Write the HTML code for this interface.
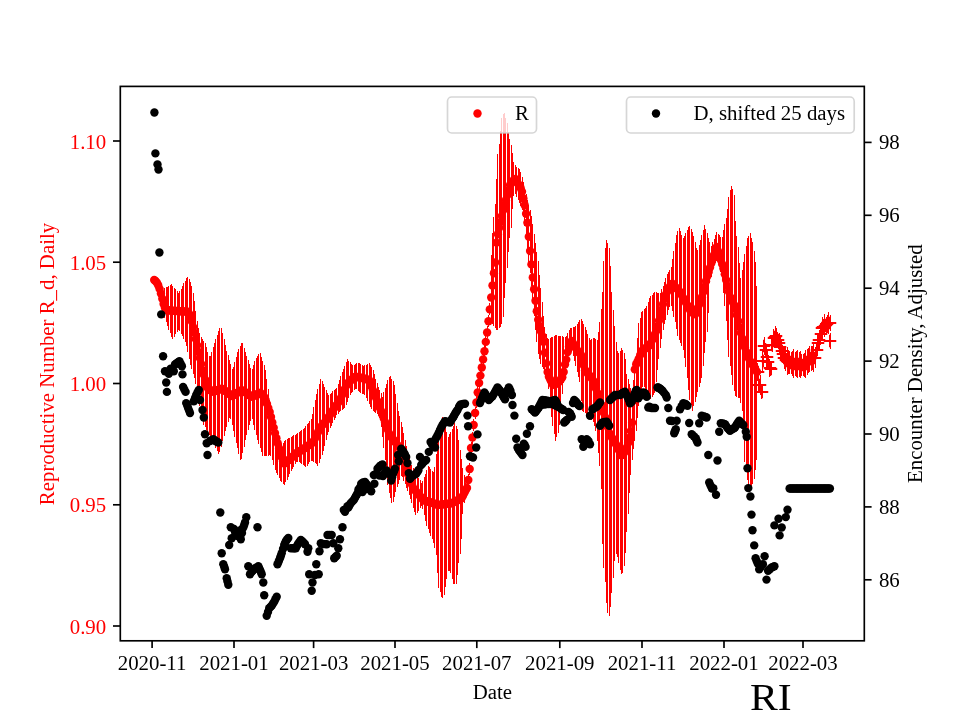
<!DOCTYPE html>
<html lang="en"><head><meta charset="utf-8"><title>RI</title>
<style>html,body{margin:0;padding:0;background:#fff}body{width:960px;height:720px;overflow:hidden}</style></head>
<body>
<svg width="960" height="720" viewBox="0 0 960 720" style="display:block">
<rect x="0" y="0" width="960" height="720" fill="#fff"/>
<g font-family="'Liberation Serif', 'DejaVu Serif', serif" font-size="20.83">
<path d="M164.5 288V318M166.5 287V322M167.5 287V326M168.5 286V330M170.5 285V333M171.5 284V337M172.5 286V339M174.5 288V337M175.5 289V334M177.5 291V332M178.5 293V330M179.5 291V331M181.5 289V334M182.5 286V336M183.5 283V339M185.5 281V342M186.5 278V346M187.5 277V352M189.5 279V359M190.5 282V365M191.5 286V369M193.5 293V374M194.5 301V378M195.5 311V384M197.5 321V392M198.5 328V399M199.5 333V406M201.5 337V413M202.5 339V420M203.5 341V425M205.5 343V427M206.5 347V430M207.5 352V432M209.5 356V435M210.5 356V437M211.5 352V440M213.5 347V443M214.5 343V445M215.5 339V448M217.5 335V451M218.5 331V454M219.5 328V452M221.5 328V447M222.5 333V441M224.5 339V436M225.5 345V431M226.5 351V427M228.5 355V422M229.5 360V418M230.5 364V419M232.5 369V425M233.5 367V431M234.5 362V437M236.5 357V443M237.5 352V448M238.5 349V454M240.5 346V460M241.5 343V459M242.5 343V453M244.5 348V447M245.5 352V440M246.5 356V435M248.5 360V430M249.5 364V425M250.5 368V421M252.5 369V419M253.5 365V425M254.5 361V430M256.5 358V435M257.5 356V440M258.5 354V444M260.5 353V448M261.5 357V452M262.5 361V456M264.5 365V456M265.5 370V456M266.5 379V456M268.5 389V456M269.5 400V455M270.5 410V456M272.5 419V460M273.5 426V465M275.5 431V470M276.5 436V473M277.5 439V475M279.5 443V478M280.5 445V481M281.5 444V482M283.5 443V484M284.5 441V485M285.5 440V482M287.5 439V480M288.5 438V477M289.5 438V474M291.5 437V471M292.5 436V469M293.5 435V467M295.5 435V464M296.5 434V462M297.5 433V462M299.5 432V462M300.5 431V463M301.5 430V464M303.5 429V465M304.5 428V466M305.5 426V467M307.5 424V466M308.5 423V464M309.5 421V462M311.5 419V461M312.5 414V461M313.5 407V462M315.5 400V463M316.5 394V464M317.5 389V466M319.5 384V463M320.5 379V459M322.5 381V455M323.5 384V451M324.5 387V446M326.5 390V440M327.5 393V435M328.5 395V432M330.5 394V428M331.5 393V426M332.5 391V423M334.5 390V420M335.5 389V418M336.5 388V415M338.5 384V414M339.5 380V412M340.5 376V411M342.5 372V410M343.5 369V409M344.5 366V408M346.5 362V405M347.5 359V402M348.5 361V398M350.5 362V395M351.5 364V393M352.5 365V392M354.5 365V390M355.5 364V389M356.5 363V389M358.5 363V391M359.5 363V392M360.5 364V393M362.5 365V394M363.5 366V394M364.5 365V395M366.5 365V398M367.5 364V401M369.5 363V404M370.5 365V407M371.5 367V409M373.5 370V411M374.5 374V412M375.5 379V413M377.5 383V414M378.5 387V416M379.5 390V418M381.5 393V427M382.5 397V437M383.5 392V448M385.5 388V460M386.5 384V473M387.5 380V485M389.5 377V493M390.5 376V498M391.5 379V503M393.5 381V502M394.5 385V497M395.5 394V492M397.5 403V487M398.5 411V484M399.5 416V480M401.5 422V476M402.5 427V477M403.5 433V481M405.5 440V484M406.5 446V488M407.5 451V491M409.5 456V495M410.5 461V499M411.5 465V503M413.5 468V508M414.5 470V512M415.5 473V515M417.5 475V513M418.5 478V511M420.5 480V508M421.5 483V506M422.5 481V509M424.5 477V515M425.5 474V521M426.5 470V526M428.5 466V529M429.5 467V533M430.5 469V536M432.5 471V539M433.5 472V543M434.5 467V548M436.5 454V555M437.5 440V573M438.5 434V588M440.5 427V592M441.5 421V597M442.5 417V598M444.5 422V595M445.5 427V587M446.5 432V579M448.5 437V571M449.5 434V571M450.5 432V573M452.5 429V579M453.5 426V584M454.5 423V584M456.5 426V584M457.5 429V575M458.5 440V563M460.5 450V554M461.5 459V539M462.5 468V514M464.5 475V503M465.5 483V496M467.5 482V494M468.5 474V486M469.5 463V475M471.5 442V454M472.5 432V444M473.5 419V431M475.5 407V419M476.5 396V408M477.5 386V398M479.5 377V389M480.5 370V382M481.5 362V374M483.5 353V365M484.5 345V357M485.5 336V348M487.5 326V338M488.5 315V327M489.5 303V315M491.5 255V322M492.5 233V324M493.5 217V326M495.5 204V328M496.5 179V330M497.5 154V330M499.5 144V328M500.5 131V327M501.5 118V324M503.5 114V317M504.5 113V298M505.5 118V283M507.5 123V268M508.5 132V252M509.5 139V238M511.5 145V228M512.5 153V209M513.5 162V196M515.5 165V194M516.5 167V197M518.5 168V200M519.5 169V203M520.5 172V206M522.5 177V210M523.5 182V217M524.5 189V226M526.5 194V238M527.5 200V252M528.5 205V266M530.5 210V273M531.5 216V286M532.5 224V303M534.5 234V316M535.5 243V330M536.5 252V342M538.5 261V354M539.5 275V359M540.5 288V364M542.5 302V367M543.5 316V369M544.5 327V370M546.5 334V371M547.5 338V378M548.5 339V389M550.5 338V403M551.5 337V417M552.5 337V426M554.5 336V434M555.5 335V441M556.5 335V437M558.5 336V433M559.5 336V425M560.5 336V409M562.5 336V394M563.5 337V383M565.5 337V374M566.5 336V367M567.5 333V360M569.5 330V353M570.5 328V349M571.5 328V352M573.5 327V356M574.5 327V361M575.5 326V366M577.5 324V372M578.5 322V377M579.5 320V382M581.5 319V401M582.5 321V411M583.5 324V412M585.5 327V413M586.5 330V415M587.5 334V416M589.5 338V418M590.5 340V419M591.5 339V420M593.5 338V422M594.5 338V426M595.5 339V431M597.5 340V441M598.5 332V453M599.5 322V466M601.5 309V489M602.5 292V544M603.5 261V568M605.5 248V582M606.5 240V603M607.5 243V613M609.5 248V616M610.5 266V607M611.5 292V593M613.5 310V578M614.5 326V561M616.5 342V554M617.5 351V557M618.5 353V563M620.5 351V570M621.5 348V574M622.5 350V573M624.5 353V566M625.5 359V553M626.5 374V532M628.5 379V514M629.5 384V493M630.5 388V475M632.5 391V460M633.5 380V449M634.5 368V441M636.5 355V431M637.5 338V418M638.5 323V406M640.5 318V396M641.5 312V391M642.5 311V387M644.5 309V387M645.5 308V390M646.5 306V393M648.5 302V396M649.5 298V399M650.5 296V399M652.5 295V397M653.5 293V395M654.5 292V393M656.5 292V382M657.5 293V370M658.5 293V359M660.5 293V348M661.5 289V339M663.5 286V330M664.5 282V324M665.5 278V320M667.5 274V315M668.5 272V310M669.5 270V307M671.5 267V306M672.5 259V311M673.5 251V317M675.5 243V322M676.5 235V329M677.5 231V336M679.5 228V340M680.5 231V343M681.5 235V346M683.5 238V350M684.5 236V358M685.5 233V367M687.5 230V378M688.5 227V390M689.5 226V400M691.5 229V405M692.5 232V411M693.5 236V406M695.5 242V402M696.5 248V397M697.5 250V392M699.5 245V387M700.5 240V383M701.5 235V378M703.5 230V366M704.5 225V353M705.5 229V342M707.5 233V332M708.5 238V313M709.5 242V283M711.5 246V277M712.5 242V270M714.5 239V265M715.5 235V263M716.5 232V261M718.5 234V263M719.5 235V266M720.5 237V272M722.5 237V280M723.5 230V293M724.5 224V306M726.5 218V321M727.5 209V340M728.5 197V357M730.5 190V366M731.5 186V375M732.5 189V385M734.5 195V391M735.5 221V396M736.5 236V397M738.5 247V398M739.5 263V398M740.5 278V403M742.5 270V411M743.5 262V428M744.5 254V462M746.5 246V472M747.5 238V480M748.5 236V485M750.5 233V489M751.5 238V487M752.5 242V484M754.5 251V479M755.5 262V470M756.5 286V460" stroke="#f00" stroke-width="1" fill="none"/>
<g fill="#f00"><circle cx="154.2" cy="280.0" r="4.2"/><circle cx="155.5" cy="281.0" r="4.2"/><circle cx="156.9" cy="282.7" r="4.2"/><circle cx="158.2" cy="285.3" r="4.2"/><circle cx="159.6" cy="288.9" r="4.2"/><circle cx="160.9" cy="293.5" r="4.2"/><circle cx="162.3" cy="298.8" r="4.2"/><circle cx="163.6" cy="304.0" r="4.2"/><circle cx="164.9" cy="307.8" r="4.2"/><circle cx="166.3" cy="310.0" r="4.2"/><circle cx="167.6" cy="310.2" r="4.2"/><circle cx="169.0" cy="310.3" r="4.2"/><circle cx="170.3" cy="310.5" r="4.2"/><circle cx="171.7" cy="310.6" r="4.2"/><circle cx="173.0" cy="310.8" r="4.2"/><circle cx="174.3" cy="310.9" r="4.2"/><circle cx="175.7" cy="310.9" r="4.2"/><circle cx="177.0" cy="311.0" r="4.2"/><circle cx="178.4" cy="311.1" r="4.2"/><circle cx="179.7" cy="311.2" r="4.2"/><circle cx="181.0" cy="311.3" r="4.2"/><circle cx="182.4" cy="311.3" r="4.2"/><circle cx="183.7" cy="311.4" r="4.2"/><circle cx="185.1" cy="311.5" r="4.2"/><circle cx="186.4" cy="311.6" r="4.2"/><circle cx="187.8" cy="311.7" r="4.2"/><circle cx="189.1" cy="313.6" r="4.2"/><circle cx="190.4" cy="316.7" r="4.2"/><circle cx="191.8" cy="321.4" r="4.2"/><circle cx="193.1" cy="327.1" r="4.2"/><circle cx="194.5" cy="332.8" r="4.2"/><circle cx="195.8" cy="339.0" r="4.2"/><circle cx="197.2" cy="345.5" r="4.2"/><circle cx="198.5" cy="352.0" r="4.2"/><circle cx="199.8" cy="358.1" r="4.2"/><circle cx="201.2" cy="364.1" r="4.2"/><circle cx="202.5" cy="370.1" r="4.2"/><circle cx="203.9" cy="374.9" r="4.2"/><circle cx="205.2" cy="379.8" r="4.2"/><circle cx="206.6" cy="384.6" r="4.2"/><circle cx="207.9" cy="388.3" r="4.2"/><circle cx="209.2" cy="389.3" r="4.2"/><circle cx="210.6" cy="390.2" r="4.2"/><circle cx="211.9" cy="391.2" r="4.2"/><circle cx="213.3" cy="391.9" r="4.2"/><circle cx="214.6" cy="391.4" r="4.2"/><circle cx="216.0" cy="390.9" r="4.2"/><circle cx="217.3" cy="390.3" r="4.2"/><circle cx="218.6" cy="389.8" r="4.2"/><circle cx="220.0" cy="389.3" r="4.2"/><circle cx="221.3" cy="388.8" r="4.2"/><circle cx="222.7" cy="389.0" r="4.2"/><circle cx="224.0" cy="390.0" r="4.2"/><circle cx="225.4" cy="391.0" r="4.2"/><circle cx="226.7" cy="392.0" r="4.2"/><circle cx="228.0" cy="393.0" r="4.2"/><circle cx="229.4" cy="394.0" r="4.2"/><circle cx="230.7" cy="395.0" r="4.2"/><circle cx="232.1" cy="396.0" r="4.2"/><circle cx="233.4" cy="395.2" r="4.2"/><circle cx="234.8" cy="394.4" r="4.2"/><circle cx="236.1" cy="393.5" r="4.2"/><circle cx="237.4" cy="392.7" r="4.2"/><circle cx="238.8" cy="391.9" r="4.2"/><circle cx="240.1" cy="391.1" r="4.2"/><circle cx="241.5" cy="390.3" r="4.2"/><circle cx="242.8" cy="390.6" r="4.2"/><circle cx="244.1" cy="391.5" r="4.2"/><circle cx="245.5" cy="392.4" r="4.2"/><circle cx="246.8" cy="393.4" r="4.2"/><circle cx="248.2" cy="394.3" r="4.2"/><circle cx="249.5" cy="395.3" r="4.2"/><circle cx="250.9" cy="396.2" r="4.2"/><circle cx="252.2" cy="396.9" r="4.2"/><circle cx="253.5" cy="396.1" r="4.2"/><circle cx="254.9" cy="395.4" r="4.2"/><circle cx="256.2" cy="394.6" r="4.2"/><circle cx="257.6" cy="393.9" r="4.2"/><circle cx="258.9" cy="393.1" r="4.2"/><circle cx="260.3" cy="392.8" r="4.2"/><circle cx="261.6" cy="394.3" r="4.2"/><circle cx="262.9" cy="395.7" r="4.2"/><circle cx="264.3" cy="397.2" r="4.2"/><circle cx="265.6" cy="399.9" r="4.2"/><circle cx="267.0" cy="403.9" r="4.2"/><circle cx="268.3" cy="407.9" r="4.2"/><circle cx="269.7" cy="412.0" r="4.2"/><circle cx="271.0" cy="417.0" r="4.2"/><circle cx="272.3" cy="422.4" r="4.2"/><circle cx="273.7" cy="427.7" r="4.2"/><circle cx="275.0" cy="433.1" r="4.2"/><circle cx="276.4" cy="438.2" r="4.2"/><circle cx="277.7" cy="443.3" r="4.2"/><circle cx="279.1" cy="448.4" r="4.2"/><circle cx="280.4" cy="453.2" r="4.2"/><circle cx="281.7" cy="457.2" r="4.2"/><circle cx="283.1" cy="461.2" r="4.2"/><circle cx="284.4" cy="463.6" r="4.2"/><circle cx="285.8" cy="462.5" r="4.2"/><circle cx="287.1" cy="461.4" r="4.2"/><circle cx="288.4" cy="460.3" r="4.2"/><circle cx="289.8" cy="459.2" r="4.2"/><circle cx="291.1" cy="458.0" r="4.2"/><circle cx="292.5" cy="456.8" r="4.2"/><circle cx="293.8" cy="455.6" r="4.2"/><circle cx="295.2" cy="454.4" r="4.2"/><circle cx="296.5" cy="453.2" r="4.2"/><circle cx="297.8" cy="452.3" r="4.2"/><circle cx="299.2" cy="451.5" r="4.2"/><circle cx="300.5" cy="450.7" r="4.2"/><circle cx="301.9" cy="449.9" r="4.2"/><circle cx="303.2" cy="449.1" r="4.2"/><circle cx="304.6" cy="448.3" r="4.2"/><circle cx="305.9" cy="447.3" r="4.2"/><circle cx="307.2" cy="446.4" r="4.2"/><circle cx="308.6" cy="445.4" r="4.2"/><circle cx="309.9" cy="444.4" r="4.2"/><circle cx="311.3" cy="443.5" r="4.2"/><circle cx="312.6" cy="442.5" r="4.2"/><circle cx="314.0" cy="440.6" r="4.2"/><circle cx="315.3" cy="437.8" r="4.2"/><circle cx="316.6" cy="435.0" r="4.2"/><circle cx="318.0" cy="432.2" r="4.2"/><circle cx="319.3" cy="429.4" r="4.2"/><circle cx="320.7" cy="427.2" r="4.2"/><circle cx="322.0" cy="425.6" r="4.2"/><circle cx="323.4" cy="424.0" r="4.2"/><circle cx="324.7" cy="422.4" r="4.2"/><circle cx="326.0" cy="420.8" r="4.2"/><circle cx="327.4" cy="418.9" r="4.2"/><circle cx="328.7" cy="416.8" r="4.2"/><circle cx="330.1" cy="414.7" r="4.2"/><circle cx="331.4" cy="412.5" r="4.2"/><circle cx="332.8" cy="410.4" r="4.2"/><circle cx="334.1" cy="408.4" r="4.2"/><circle cx="335.4" cy="406.5" r="4.2"/><circle cx="336.8" cy="404.6" r="4.2"/><circle cx="338.1" cy="402.7" r="4.2"/><circle cx="339.5" cy="400.8" r="4.2"/><circle cx="340.8" cy="398.2" r="4.2"/><circle cx="342.1" cy="395.1" r="4.2"/><circle cx="343.5" cy="392.0" r="4.2"/><circle cx="344.8" cy="388.9" r="4.2"/><circle cx="346.2" cy="385.9" r="4.2"/><circle cx="347.5" cy="383.5" r="4.2"/><circle cx="348.9" cy="382.3" r="4.2"/><circle cx="350.2" cy="381.0" r="4.2"/><circle cx="351.5" cy="379.7" r="4.2"/><circle cx="352.9" cy="378.5" r="4.2"/><circle cx="354.2" cy="377.2" r="4.2"/><circle cx="355.6" cy="376.6" r="4.2"/><circle cx="356.9" cy="376.9" r="4.2"/><circle cx="358.3" cy="377.2" r="4.2"/><circle cx="359.6" cy="377.5" r="4.2"/><circle cx="360.9" cy="377.8" r="4.2"/><circle cx="362.3" cy="378.1" r="4.2"/><circle cx="363.6" cy="378.5" r="4.2"/><circle cx="365.0" cy="378.8" r="4.2"/><circle cx="366.3" cy="379.2" r="4.2"/><circle cx="367.7" cy="379.6" r="4.2"/><circle cx="369.0" cy="380.0" r="4.2"/><circle cx="370.3" cy="383.5" r="4.2"/><circle cx="371.7" cy="386.9" r="4.2"/><circle cx="373.0" cy="390.4" r="4.2"/><circle cx="374.4" cy="393.8" r="4.2"/><circle cx="375.7" cy="397.3" r="4.2"/><circle cx="377.1" cy="400.8" r="4.2"/><circle cx="378.4" cy="404.3" r="4.2"/><circle cx="379.7" cy="407.8" r="4.2"/><circle cx="381.1" cy="411.3" r="4.2"/><circle cx="382.4" cy="414.8" r="4.2"/><circle cx="383.8" cy="418.5" r="4.2"/><circle cx="385.1" cy="422.3" r="4.2"/><circle cx="386.5" cy="426.0" r="4.2"/><circle cx="387.8" cy="429.7" r="4.2"/><circle cx="389.1" cy="433.4" r="4.2"/><circle cx="390.5" cy="436.0" r="4.2"/><circle cx="391.8" cy="437.7" r="4.2"/><circle cx="393.2" cy="439.5" r="4.2"/><circle cx="394.5" cy="441.2" r="4.2"/><circle cx="395.9" cy="442.9" r="4.2"/><circle cx="397.2" cy="444.7" r="4.2"/><circle cx="398.5" cy="446.6" r="4.2"/><circle cx="399.9" cy="448.4" r="4.2"/><circle cx="401.2" cy="450.3" r="4.2"/><circle cx="402.6" cy="455.1" r="4.2"/><circle cx="403.9" cy="461.5" r="4.2"/><circle cx="405.2" cy="467.3" r="4.2"/><circle cx="406.6" cy="470.8" r="4.2"/><circle cx="407.9" cy="474.3" r="4.2"/><circle cx="409.3" cy="477.8" r="4.2"/><circle cx="410.6" cy="481.3" r="4.2"/><circle cx="412.0" cy="484.8" r="4.2"/><circle cx="413.3" cy="488.3" r="4.2"/><circle cx="414.6" cy="489.9" r="4.2"/><circle cx="416.0" cy="491.4" r="4.2"/><circle cx="417.3" cy="493.0" r="4.2"/><circle cx="418.7" cy="494.6" r="4.2"/><circle cx="420.0" cy="496.2" r="4.2"/><circle cx="421.4" cy="497.7" r="4.2"/><circle cx="422.7" cy="499.3" r="4.2"/><circle cx="424.0" cy="500.2" r="4.2"/><circle cx="425.4" cy="500.7" r="4.2"/><circle cx="426.7" cy="501.1" r="4.2"/><circle cx="428.1" cy="501.6" r="4.2"/><circle cx="429.4" cy="502.0" r="4.2"/><circle cx="430.8" cy="502.5" r="4.2"/><circle cx="432.1" cy="502.9" r="4.2"/><circle cx="433.4" cy="503.4" r="4.2"/><circle cx="434.8" cy="503.8" r="4.2"/><circle cx="436.1" cy="504.3" r="4.2"/><circle cx="437.5" cy="504.7" r="4.2"/><circle cx="438.8" cy="504.9" r="4.2"/><circle cx="440.2" cy="504.8" r="4.2"/><circle cx="441.5" cy="504.6" r="4.2"/><circle cx="442.8" cy="504.4" r="4.2"/><circle cx="444.2" cy="504.3" r="4.2"/><circle cx="445.5" cy="504.1" r="4.2"/><circle cx="446.9" cy="503.9" r="4.2"/><circle cx="448.2" cy="503.7" r="4.2"/><circle cx="449.6" cy="503.6" r="4.2"/><circle cx="450.9" cy="503.4" r="4.2"/><circle cx="452.2" cy="503.0" r="4.2"/><circle cx="453.6" cy="502.4" r="4.2"/><circle cx="454.9" cy="501.7" r="4.2"/><circle cx="456.3" cy="501.0" r="4.2"/><circle cx="457.6" cy="500.3" r="4.2"/><circle cx="458.9" cy="499.7" r="4.2"/><circle cx="460.3" cy="499.0" r="4.2"/><circle cx="461.6" cy="498.3" r="4.2"/><circle cx="463.0" cy="495.7" r="4.2"/><circle cx="464.3" cy="493.0" r="4.2"/><circle cx="465.7" cy="490.3" r="4.2"/><circle cx="467.0" cy="488.0" r="4.2"/><circle cx="468.3" cy="480.0" r="4.2"/><circle cx="469.7" cy="469.0" r="4.2"/><circle cx="471.0" cy="448.0" r="4.2"/><circle cx="472.4" cy="437.5" r="4.2"/><circle cx="473.7" cy="425.0" r="4.2"/><circle cx="475.1" cy="413.0" r="4.2"/><circle cx="476.4" cy="402.5" r="4.2"/><circle cx="477.7" cy="392.5" r="4.2"/><circle cx="479.1" cy="383.0" r="4.2"/><circle cx="480.4" cy="375.6" r="4.2"/><circle cx="481.8" cy="367.5" r="4.2"/><circle cx="483.1" cy="359.4" r="4.2"/><circle cx="484.5" cy="351.2" r="4.2"/><circle cx="485.8" cy="341.9" r="4.2"/><circle cx="487.1" cy="332.5" r="4.2"/><circle cx="488.5" cy="321.2" r="4.2"/><circle cx="489.8" cy="309.4" r="4.2"/><circle cx="491.2" cy="297.5" r="4.2"/><circle cx="492.5" cy="285.5" r="4.2"/><circle cx="493.9" cy="273.3" r="4.2"/><circle cx="495.2" cy="262.5" r="4.2"/><circle cx="496.5" cy="242.6" r="4.2"/><circle cx="497.9" cy="234.3" r="4.2"/><circle cx="499.2" cy="227.7" r="4.2"/><circle cx="500.6" cy="221.9" r="4.2"/><circle cx="501.9" cy="216.0" r="4.2"/><circle cx="503.2" cy="210.2" r="4.2"/><circle cx="504.6" cy="205.2" r="4.2"/><circle cx="505.9" cy="200.2" r="4.2"/><circle cx="507.3" cy="195.2" r="4.2"/><circle cx="508.6" cy="190.1" r="4.2"/><circle cx="510.0" cy="185.1" r="4.2"/><circle cx="511.3" cy="183.3" r="4.2"/><circle cx="512.6" cy="181.5" r="4.2"/><circle cx="514.0" cy="179.7" r="4.2"/><circle cx="515.3" cy="178.9" r="4.2"/><circle cx="516.7" cy="181.2" r="4.2"/><circle cx="518.0" cy="183.6" r="4.2"/><circle cx="519.4" cy="185.9" r="4.2"/><circle cx="520.7" cy="188.3" r="4.2"/><circle cx="522.0" cy="191.7" r="4.2"/><circle cx="523.4" cy="198.5" r="4.2"/><circle cx="524.7" cy="205.3" r="4.2"/><circle cx="526.1" cy="213.8" r="4.2"/><circle cx="527.4" cy="222.7" r="4.2"/><circle cx="528.8" cy="236.7" r="4.2"/><circle cx="530.1" cy="251.0" r="4.2"/><circle cx="531.4" cy="264.4" r="4.2"/><circle cx="532.8" cy="277.5" r="4.2"/><circle cx="534.1" cy="289.3" r="4.2"/><circle cx="535.5" cy="300.7" r="4.2"/><circle cx="536.8" cy="311.3" r="4.2"/><circle cx="538.2" cy="319.7" r="4.2"/><circle cx="539.5" cy="326.0" r="4.2"/><circle cx="540.8" cy="331.3" r="4.2"/><circle cx="542.2" cy="336.0" r="4.2"/><circle cx="543.5" cy="341.8" r="4.2"/><circle cx="544.9" cy="352.8" r="4.2"/><circle cx="546.2" cy="363.4" r="4.2"/><circle cx="547.6" cy="372.1" r="4.2"/><circle cx="548.9" cy="376.8" r="4.2"/><circle cx="550.2" cy="379.5" r="4.2"/><circle cx="551.6" cy="382.2" r="4.2"/><circle cx="552.9" cy="384.8" r="4.2"/><circle cx="554.3" cy="384.5" r="4.2"/><circle cx="555.6" cy="384.0" r="4.2"/><circle cx="557.0" cy="383.4" r="4.2"/><circle cx="558.3" cy="382.6" r="4.2"/><circle cx="559.6" cy="381.0" r="4.2"/><circle cx="561.0" cy="379.3" r="4.2"/><circle cx="562.3" cy="377.3" r="4.2"/><circle cx="563.7" cy="372.0" r="4.2"/><circle cx="565.0" cy="364.5" r="4.2"/><circle cx="566.3" cy="359.6" r="4.2"/><circle cx="567.7" cy="352.1" r="4.2"/><circle cx="569.0" cy="346.7" r="4.2"/><circle cx="570.4" cy="343.8" r="4.2"/><circle cx="571.7" cy="341.0" r="4.2"/><circle cx="573.1" cy="343.5" r="4.2"/><circle cx="574.4" cy="345.9" r="4.2"/><circle cx="575.7" cy="348.1" r="4.2"/><circle cx="577.1" cy="350.2" r="4.2"/><circle cx="578.4" cy="352.1" r="4.2"/><circle cx="579.8" cy="353.2" r="4.2"/><circle cx="581.1" cy="355.2" r="4.2"/><circle cx="582.5" cy="360.3" r="4.2"/><circle cx="583.8" cy="365.4" r="4.2"/><circle cx="585.1" cy="370.2" r="4.2"/><circle cx="586.5" cy="371.9" r="4.2"/><circle cx="587.8" cy="373.5" r="4.2"/><circle cx="589.2" cy="375.2" r="4.2"/><circle cx="590.5" cy="376.9" r="4.2"/><circle cx="591.9" cy="378.6" r="4.2"/><circle cx="593.2" cy="380.6" r="4.2"/><circle cx="594.5" cy="384.6" r="4.2"/><circle cx="595.9" cy="388.6" r="4.2"/><circle cx="597.2" cy="392.7" r="4.2"/><circle cx="598.6" cy="396.7" r="4.2"/><circle cx="599.9" cy="400.7" r="4.2"/><circle cx="601.3" cy="404.8" r="4.2"/><circle cx="602.6" cy="408.8" r="4.2"/><circle cx="603.9" cy="413.0" r="4.2"/><circle cx="605.3" cy="417.4" r="4.2"/><circle cx="606.6" cy="421.7" r="4.2"/><circle cx="608.0" cy="427.6" r="4.2"/><circle cx="609.3" cy="433.2" r="4.2"/><circle cx="610.6" cy="435.4" r="4.2"/><circle cx="612.0" cy="437.7" r="4.2"/><circle cx="613.3" cy="439.9" r="4.2"/><circle cx="614.7" cy="442.1" r="4.2"/><circle cx="616.0" cy="444.4" r="4.2"/><circle cx="617.4" cy="447.2" r="4.2"/><circle cx="618.7" cy="449.9" r="4.2"/><circle cx="620.0" cy="452.6" r="4.2"/><circle cx="621.4" cy="455.4" r="4.2"/><circle cx="622.7" cy="454.6" r="4.2"/><circle cx="624.1" cy="452.7" r="4.2"/><circle cx="625.4" cy="450.8" r="4.2"/><circle cx="626.8" cy="447.5" r="4.2"/><circle cx="628.1" cy="443.0" r="4.2"/><circle cx="629.4" cy="437.8" r="4.2"/><circle cx="630.8" cy="431.1" r="4.2"/><circle cx="632.1" cy="422.8" r="4.2"/><circle cx="633.5" cy="400.5" r="4.2"/><circle cx="634.8" cy="369.4" r="4.2"/><circle cx="636.2" cy="364.3" r="4.2"/><circle cx="637.5" cy="361.6" r="4.2"/><circle cx="638.8" cy="358.6" r="4.2"/><circle cx="640.2" cy="355.0" r="4.2"/><circle cx="641.5" cy="351.5" r="4.2"/><circle cx="642.9" cy="350.2" r="4.2"/><circle cx="644.2" cy="349.2" r="4.2"/><circle cx="645.6" cy="348.2" r="4.2"/><circle cx="646.9" cy="347.2" r="4.2"/><circle cx="648.2" cy="346.3" r="4.2"/><circle cx="649.6" cy="345.3" r="4.2"/><circle cx="650.9" cy="342.9" r="4.2"/><circle cx="652.3" cy="339.9" r="4.2"/><circle cx="653.6" cy="336.9" r="4.2"/><circle cx="655.0" cy="333.9" r="4.2"/><circle cx="656.3" cy="330.9" r="4.2"/><circle cx="657.6" cy="326.2" r="4.2"/><circle cx="659.0" cy="320.7" r="4.2"/><circle cx="660.3" cy="315.2" r="4.2"/><circle cx="661.7" cy="309.7" r="4.2"/><circle cx="663.0" cy="304.2" r="4.2"/><circle cx="664.4" cy="298.7" r="4.2"/><circle cx="665.7" cy="294.7" r="4.2"/><circle cx="667.0" cy="292.1" r="4.2"/><circle cx="668.4" cy="289.4" r="4.2"/><circle cx="669.7" cy="286.8" r="4.2"/><circle cx="671.1" cy="284.2" r="4.2"/><circle cx="672.4" cy="283.8" r="4.2"/><circle cx="673.7" cy="285.2" r="4.2"/><circle cx="675.1" cy="286.7" r="4.2"/><circle cx="676.4" cy="288.1" r="4.2"/><circle cx="677.8" cy="289.6" r="4.2"/><circle cx="679.1" cy="291.0" r="4.2"/><circle cx="680.5" cy="292.8" r="4.2"/><circle cx="681.8" cy="295.2" r="4.2"/><circle cx="683.1" cy="297.7" r="4.2"/><circle cx="684.5" cy="300.1" r="4.2"/><circle cx="685.8" cy="302.5" r="4.2"/><circle cx="687.2" cy="304.9" r="4.2"/><circle cx="688.5" cy="307.3" r="4.2"/><circle cx="689.9" cy="309.7" r="4.2"/><circle cx="691.2" cy="311.2" r="4.2"/><circle cx="692.5" cy="312.5" r="4.2"/><circle cx="693.9" cy="313.9" r="4.2"/><circle cx="695.2" cy="314.4" r="4.2"/><circle cx="696.6" cy="311.1" r="4.2"/><circle cx="697.9" cy="307.7" r="4.2"/><circle cx="699.3" cy="304.4" r="4.2"/><circle cx="700.6" cy="301.0" r="4.2"/><circle cx="701.9" cy="297.3" r="4.2"/><circle cx="703.3" cy="292.0" r="4.2"/><circle cx="704.6" cy="286.6" r="4.2"/><circle cx="706.0" cy="281.2" r="4.2"/><circle cx="707.3" cy="276.3" r="4.2"/><circle cx="708.7" cy="271.9" r="4.2"/><circle cx="710.0" cy="267.6" r="4.2"/><circle cx="711.3" cy="263.2" r="4.2"/><circle cx="712.7" cy="259.1" r="4.2"/><circle cx="714.0" cy="255.0" r="4.2"/><circle cx="715.4" cy="251.0" r="4.2"/><circle cx="716.7" cy="247.0" r="4.2"/><circle cx="718.0" cy="251.3" r="4.2"/><circle cx="719.4" cy="255.6" r="4.2"/><circle cx="720.7" cy="259.8" r="4.2"/><circle cx="722.1" cy="264.1" r="4.2"/><circle cx="723.4" cy="268.5" r="4.2"/><circle cx="724.8" cy="274.3" r="4.2"/><circle cx="726.1" cy="280.0" r="4.2"/><circle cx="727.4" cy="285.8" r="4.2"/><circle cx="728.8" cy="291.5" r="4.2"/><circle cx="730.1" cy="297.0" r="4.2"/><circle cx="731.5" cy="299.6" r="4.2"/><circle cx="732.8" cy="302.3" r="4.2"/><circle cx="734.2" cy="305.0" r="4.2"/><circle cx="735.5" cy="309.0" r="4.2"/><circle cx="736.8" cy="315.1" r="4.2"/><circle cx="738.2" cy="321.2" r="4.2"/><circle cx="739.5" cy="327.1" r="4.2"/><circle cx="740.9" cy="333.0" r="4.2"/><circle cx="742.2" cy="338.4" r="4.2"/><circle cx="743.6" cy="342.9" r="4.2"/><circle cx="744.9" cy="347.3" r="4.2"/><circle cx="746.2" cy="351.8" r="4.2"/><circle cx="747.6" cy="355.4" r="4.2"/><circle cx="748.9" cy="358.5" r="4.2"/><circle cx="750.3" cy="361.4" r="4.2"/><circle cx="751.6" cy="363.5" r="4.2"/><circle cx="753.0" cy="365.6" r="4.2"/><circle cx="754.3" cy="367.8" r="4.2"/><circle cx="755.6" cy="369.9" r="4.2"/><circle cx="757.0" cy="372.0" r="4.2"/></g>
<path d="M757.5 363V381M758.5 377V393M760.5 375V395M761.5 385V399M762.5 351V371M764.5 337V355M765.5 343V357M766.5 347V367M768.5 355V369M769.5 359V377M770.5 362V376M772.5 338V352M773.5 329V347M775.5 326V348M776.5 328V344M777.5 332V348M779.5 333V353M780.5 335V359M781.5 341V361M783.5 346V363M784.5 346V369M785.5 348V371M787.5 347V375M788.5 350V374M789.5 351V374M791.5 352V374M792.5 351V376M793.5 349V378M795.5 352V376M796.5 351V377M797.5 350V378M799.5 352V377M800.5 351V378M801.5 354V376M803.5 354V376M804.5 353V377M805.5 350V378M807.5 349V375M808.5 348V373M809.5 346V372M811.5 346V371M812.5 346V370M813.5 344V372M815.5 347V368M816.5 342V358M817.5 333V353M819.5 330V350M820.5 323V345M822.5 317V339M823.5 319V335M824.5 314V337M826.5 317V333M827.5 315V333M828.5 312V334M830.5 315V331M830.5 333V349" stroke="#f00" stroke-width="1" fill="none"/>
<path d="M751.75 372h12.5M758 365.75v12.5M752.75 385h12.5M759 378.75v12.5M753.75 385h12.5M760 378.75v12.5M755.75 392h12.5M762 385.75v12.5M756.75 361h12.5M763 354.75v12.5M757.75 346h12.5M764 339.75v12.5M759.75 350h12.5M766 343.75v12.5M760.75 357h12.5M767 350.75v12.5M761.75 362h12.5M768 355.75v12.5M763.75 368h12.5M770 361.75v12.5M764.75 369h12.5M771 362.75v12.5M765.75 345h12.5M772 338.75v12.5M767.75 338h12.5M774 331.75v12.5M768.75 337h12.5M775 330.75v12.5M769.75 336h12.5M776 329.75v12.5M771.75 340h12.5M778 333.75v12.5M772.75 343h12.5M779 336.75v12.5M773.75 347h12.5M780 340.75v12.5M775.75 351h12.5M782 344.75v12.5M776.75 354h12.5M783 347.75v12.5M777.75 358h12.5M784 351.75v12.5M779.75 360h12.5M786 353.75v12.5M780.75 361h12.5M787 354.75v12.5M781.75 362h12.5M788 355.75v12.5M783.75 362h12.5M790 355.75v12.5M784.75 363h12.5M791 356.75v12.5M785.75 364h12.5M792 357.75v12.5M787.75 364h12.5M794 357.75v12.5M788.75 364h12.5M795 357.75v12.5M789.75 364h12.5M796 357.75v12.5M791.75 364h12.5M798 357.75v12.5M792.75 364h12.5M799 357.75v12.5M793.75 364h12.5M800 357.75v12.5M795.75 365h12.5M802 358.75v12.5M796.75 365h12.5M803 358.75v12.5M797.75 365h12.5M804 358.75v12.5M799.75 364h12.5M806 357.75v12.5M800.75 362h12.5M807 355.75v12.5M801.75 360h12.5M808 353.75v12.5M803.75 359h12.5M810 352.75v12.5M804.75 358h12.5M811 351.75v12.5M806.75 358h12.5M813 351.75v12.5M807.75 358h12.5M814 351.75v12.5M808.75 358h12.5M815 351.75v12.5M810.75 350h12.5M817 343.75v12.5M811.75 343h12.5M818 336.75v12.5M812.75 340h12.5M819 333.75v12.5M814.75 334h12.5M821 327.75v12.5M815.75 328h12.5M822 321.75v12.5M816.75 327h12.5M823 320.75v12.5M818.75 326h12.5M825 319.75v12.5M819.75 325h12.5M826 318.75v12.5M820.75 324h12.5M827 317.75v12.5M822.75 323h12.5M829 316.75v12.5M823.75 323h12.5M830 316.75v12.5M823.75 341h12.5M830 334.75v12.5" stroke="#f00" stroke-width="2" fill="none"/>
<g fill="#000"><circle cx="358.5" cy="489.5" r="4.2"/><circle cx="360.0" cy="487.5" r="4.2"/><circle cx="376.0" cy="474.0" r="4.2"/><circle cx="379.5" cy="475.5" r="4.2"/><circle cx="383.0" cy="476.0" r="4.2"/><circle cx="386.5" cy="470.5" r="4.2"/><circle cx="362.5" cy="492.0" r="4.2"/><circle cx="366.5" cy="489.0" r="4.2"/><circle cx="573.0" cy="403.0" r="4.2"/><circle cx="579.5" cy="406.0" r="4.2"/><circle cx="541.5" cy="405.0" r="4.2"/><circle cx="548.0" cy="404.0" r="4.2"/><circle cx="552.5" cy="404.0" r="4.2"/><circle cx="556.5" cy="406.0" r="4.2"/><circle cx="234.0" cy="529.0" r="4.2"/><circle cx="239.0" cy="536.0" r="4.2"/><circle cx="242.0" cy="533.0" r="4.2"/><circle cx="154.4" cy="112.5" r="4.2"/><circle cx="155.4" cy="153.4" r="4.2"/><circle cx="157.5" cy="164.4" r="4.2"/><circle cx="158.5" cy="169.5" r="4.2"/><circle cx="159.4" cy="252.5" r="4.2"/><circle cx="161.2" cy="314.4" r="4.2"/><circle cx="163.1" cy="356.2" r="4.2"/><circle cx="165.0" cy="371.2" r="4.2"/><circle cx="166.2" cy="382.5" r="4.2"/><circle cx="166.9" cy="391.9" r="4.2"/><circle cx="168.8" cy="373.8" r="4.2"/><circle cx="170.6" cy="368.8" r="4.2"/><circle cx="172.2" cy="370.0" r="4.2"/><circle cx="173.8" cy="371.2" r="4.2"/><circle cx="175.0" cy="364.4" r="4.2"/><circle cx="177.2" cy="363.0" r="4.2"/><circle cx="179.4" cy="361.2" r="4.2"/><circle cx="181.9" cy="366.2" r="4.2"/><circle cx="182.5" cy="374.4" r="4.2"/><circle cx="183.1" cy="386.9" r="4.2"/><circle cx="185.6" cy="391.9" r="4.2"/><circle cx="186.2" cy="403.1" r="4.2"/><circle cx="188.1" cy="408.1" r="4.2"/><circle cx="190.0" cy="413.1" r="4.2"/><circle cx="193.8" cy="401.2" r="4.2"/><circle cx="196.2" cy="395.0" r="4.2"/><circle cx="198.8" cy="390.0" r="4.2"/><circle cx="200.0" cy="400.0" r="4.2"/><circle cx="202.5" cy="410.0" r="4.2"/><circle cx="203.8" cy="417.5" r="4.2"/><circle cx="205.0" cy="434.2" r="4.2"/><circle cx="206.7" cy="443.3" r="4.2"/><circle cx="207.5" cy="455.0" r="4.2"/><circle cx="210.0" cy="441.0" r="4.2"/><circle cx="213.3" cy="439.2" r="4.2"/><circle cx="215.5" cy="441.0" r="4.2"/><circle cx="218.3" cy="442.5" r="4.2"/><circle cx="220.3" cy="512.5" r="4.2"/><circle cx="221.7" cy="553.3" r="4.2"/><circle cx="223.3" cy="564.2" r="4.2"/><circle cx="225.0" cy="569.2" r="4.2"/><circle cx="226.7" cy="578.3" r="4.2"/><circle cx="228.3" cy="584.7" r="4.2"/><circle cx="229.2" cy="545.0" r="4.2"/><circle cx="230.8" cy="527.2" r="4.2"/><circle cx="231.7" cy="538.3" r="4.2"/><circle cx="235.0" cy="531.7" r="4.2"/><circle cx="236.7" cy="535.8" r="4.2"/><circle cx="238.5" cy="533.0" r="4.2"/><circle cx="240.8" cy="530.0" r="4.2"/><circle cx="240.8" cy="539.2" r="4.2"/><circle cx="243.3" cy="527.5" r="4.2"/><circle cx="245.0" cy="522.5" r="4.2"/><circle cx="246.3" cy="517.2" r="4.2"/><circle cx="248.3" cy="566.2" r="4.2"/><circle cx="250.0" cy="574.2" r="4.2"/><circle cx="251.5" cy="572.0" r="4.2"/><circle cx="253.3" cy="570.0" r="4.2"/><circle cx="255.5" cy="568.0" r="4.2"/><circle cx="257.5" cy="527.2" r="4.2"/><circle cx="258.3" cy="566.2" r="4.2"/><circle cx="260.0" cy="570.0" r="4.2"/><circle cx="261.7" cy="574.2" r="4.2"/><circle cx="263.3" cy="582.5" r="4.2"/><circle cx="264.2" cy="595.3" r="4.2"/><circle cx="266.7" cy="615.8" r="4.2"/><circle cx="268.0" cy="612.0" r="4.2"/><circle cx="269.2" cy="608.3" r="4.2"/><circle cx="271.7" cy="605.8" r="4.2"/><circle cx="274.2" cy="601.7" r="4.2"/><circle cx="276.7" cy="596.7" r="4.2"/><circle cx="277.5" cy="564.2" r="4.2"/><circle cx="280.0" cy="558.3" r="4.2"/><circle cx="281.7" cy="553.3" r="4.2"/><circle cx="283.0" cy="549.0" r="4.2"/><circle cx="284.2" cy="545.0" r="4.2"/><circle cx="286.0" cy="541.0" r="4.2"/><circle cx="288.3" cy="538.0" r="4.2"/><circle cx="290.8" cy="548.3" r="4.2"/><circle cx="293.0" cy="548.3" r="4.2"/><circle cx="295.8" cy="548.3" r="4.2"/><circle cx="298.0" cy="544.0" r="4.2"/><circle cx="300.8" cy="540.0" r="4.2"/><circle cx="303.0" cy="542.0" r="4.2"/><circle cx="305.0" cy="544.2" r="4.2"/><circle cx="307.5" cy="551.7" r="4.2"/><circle cx="308.3" cy="548.3" r="4.2"/><circle cx="309.2" cy="574.2" r="4.2"/><circle cx="311.7" cy="590.8" r="4.2"/><circle cx="312.5" cy="582.5" r="4.2"/><circle cx="315.0" cy="575.0" r="4.2"/><circle cx="316.3" cy="564.2" r="4.2"/><circle cx="318.7" cy="574.2" r="4.2"/><circle cx="319.5" cy="551.3" r="4.2"/><circle cx="320.8" cy="543.3" r="4.2"/><circle cx="323.0" cy="544.0" r="4.2"/><circle cx="326.7" cy="544.2" r="4.2"/><circle cx="327.5" cy="535.0" r="4.2"/><circle cx="329.5" cy="535.0" r="4.2"/><circle cx="331.7" cy="535.0" r="4.2"/><circle cx="333.3" cy="543.3" r="4.2"/><circle cx="334.2" cy="558.3" r="4.2"/><circle cx="336.7" cy="555.8" r="4.2"/><circle cx="338.3" cy="548.3" r="4.2"/><circle cx="340.0" cy="539.2" r="4.2"/><circle cx="342.5" cy="527.2" r="4.2"/><circle cx="343.8" cy="510.0" r="4.2"/><circle cx="345.0" cy="511.7" r="4.2"/><circle cx="347.5" cy="506.2" r="4.2"/><circle cx="348.3" cy="507.5" r="4.2"/><circle cx="350.5" cy="503.5" r="4.2"/><circle cx="353.8" cy="500.0" r="4.2"/><circle cx="356.0" cy="496.0" r="4.2"/><circle cx="358.1" cy="492.5" r="4.2"/><circle cx="361.2" cy="483.8" r="4.2"/><circle cx="363.0" cy="482.5" r="4.2"/><circle cx="365.0" cy="481.9" r="4.2"/><circle cx="368.0" cy="486.0" r="4.2"/><circle cx="371.2" cy="491.2" r="4.2"/><circle cx="373.8" cy="475.0" r="4.2"/><circle cx="374.4" cy="483.8" r="4.2"/><circle cx="377.5" cy="468.8" r="4.2"/><circle cx="380.0" cy="466.0" r="4.2"/><circle cx="382.5" cy="464.4" r="4.2"/><circle cx="385.0" cy="472.5" r="4.2"/><circle cx="387.0" cy="473.0" r="4.2"/><circle cx="388.8" cy="473.8" r="4.2"/><circle cx="391.2" cy="480.6" r="4.2"/><circle cx="393.0" cy="474.0" r="4.2"/><circle cx="395.0" cy="468.8" r="4.2"/><circle cx="398.1" cy="455.0" r="4.2"/><circle cx="398.8" cy="461.2" r="4.2"/><circle cx="401.2" cy="448.8" r="4.2"/><circle cx="403.5" cy="452.0" r="4.2"/><circle cx="406.2" cy="456.9" r="4.2"/><circle cx="407.5" cy="463.1" r="4.2"/><circle cx="408.8" cy="473.1" r="4.2"/><circle cx="410.0" cy="478.8" r="4.2"/><circle cx="412.0" cy="476.0" r="4.2"/><circle cx="414.0" cy="475.0" r="4.2"/><circle cx="416.2" cy="473.8" r="4.2"/><circle cx="418.5" cy="470.0" r="4.2"/><circle cx="420.0" cy="456.9" r="4.2"/><circle cx="421.2" cy="465.0" r="4.2"/><circle cx="423.5" cy="462.0" r="4.2"/><circle cx="426.2" cy="460.0" r="4.2"/><circle cx="428.8" cy="451.9" r="4.2"/><circle cx="430.6" cy="441.9" r="4.2"/><circle cx="432.5" cy="445.0" r="4.2"/><circle cx="435.0" cy="447.5" r="4.2"/><circle cx="435.0" cy="440.0" r="4.2"/><circle cx="437.5" cy="435.5" r="4.2"/><circle cx="440.0" cy="430.0" r="4.2"/><circle cx="442.5" cy="425.0" r="4.2"/><circle cx="445.0" cy="421.2" r="4.2"/><circle cx="447.5" cy="422.0" r="4.2"/><circle cx="450.0" cy="422.5" r="4.2"/><circle cx="452.0" cy="419.0" r="4.2"/><circle cx="453.8" cy="416.2" r="4.2"/><circle cx="455.5" cy="413.0" r="4.2"/><circle cx="457.5" cy="410.0" r="4.2"/><circle cx="459.0" cy="407.0" r="4.2"/><circle cx="460.6" cy="404.4" r="4.2"/><circle cx="463.0" cy="404.0" r="4.2"/><circle cx="465.0" cy="403.8" r="4.2"/><circle cx="467.5" cy="415.6" r="4.2"/><circle cx="468.1" cy="426.2" r="4.2"/><circle cx="470.0" cy="456.2" r="4.2"/><circle cx="473.0" cy="457.5" r="4.2"/><circle cx="476.2" cy="447.5" r="4.2"/><circle cx="477.5" cy="434.4" r="4.2"/><circle cx="480.0" cy="403.1" r="4.2"/><circle cx="482.0" cy="398.0" r="4.2"/><circle cx="484.4" cy="392.5" r="4.2"/><circle cx="486.5" cy="396.0" r="4.2"/><circle cx="488.8" cy="400.0" r="4.2"/><circle cx="490.5" cy="398.0" r="4.2"/><circle cx="492.5" cy="396.2" r="4.2"/><circle cx="495.0" cy="392.0" r="4.2"/><circle cx="497.5" cy="387.5" r="4.2"/><circle cx="499.5" cy="390.0" r="4.2"/><circle cx="501.2" cy="392.5" r="4.2"/><circle cx="503.0" cy="396.0" r="4.2"/><circle cx="505.0" cy="399.4" r="4.2"/><circle cx="506.5" cy="393.0" r="4.2"/><circle cx="508.8" cy="387.5" r="4.2"/><circle cx="510.5" cy="391.0" r="4.2"/><circle cx="511.9" cy="395.0" r="4.2"/><circle cx="512.5" cy="405.0" r="4.2"/><circle cx="514.4" cy="415.6" r="4.2"/><circle cx="516.2" cy="438.8" r="4.2"/><circle cx="517.5" cy="447.5" r="4.2"/><circle cx="519.5" cy="451.0" r="4.2"/><circle cx="522.5" cy="455.0" r="4.2"/><circle cx="523.8" cy="443.8" r="4.2"/><circle cx="525.6" cy="446.9" r="4.2"/><circle cx="526.9" cy="433.8" r="4.2"/><circle cx="530.0" cy="426.2" r="4.2"/><circle cx="531.7" cy="409.2" r="4.2"/><circle cx="533.5" cy="411.0" r="4.2"/><circle cx="535.0" cy="412.5" r="4.2"/><circle cx="537.0" cy="410.0" r="4.2"/><circle cx="538.8" cy="407.5" r="4.2"/><circle cx="540.5" cy="404.0" r="4.2"/><circle cx="542.5" cy="400.0" r="4.2"/><circle cx="545.0" cy="400.3" r="4.2"/><circle cx="547.5" cy="400.6" r="4.2"/><circle cx="549.4" cy="403.0" r="4.2"/><circle cx="551.5" cy="401.0" r="4.2"/><circle cx="553.5" cy="400.5" r="4.2"/><circle cx="555.0" cy="400.0" r="4.2"/><circle cx="556.7" cy="403.0" r="4.2"/><circle cx="558.3" cy="406.7" r="4.2"/><circle cx="561.0" cy="408.5" r="4.2"/><circle cx="563.3" cy="410.0" r="4.2"/><circle cx="564.2" cy="422.5" r="4.2"/><circle cx="566.7" cy="420.0" r="4.2"/><circle cx="568.5" cy="412.0" r="4.2"/><circle cx="570.0" cy="413.3" r="4.2"/><circle cx="571.7" cy="416.7" r="4.2"/><circle cx="574.2" cy="400.0" r="4.2"/><circle cx="576.5" cy="402.5" r="4.2"/><circle cx="578.3" cy="405.0" r="4.2"/><circle cx="581.7" cy="439.2" r="4.2"/><circle cx="583.3" cy="446.7" r="4.2"/><circle cx="585.0" cy="443.0" r="4.2"/><circle cx="586.7" cy="439.2" r="4.2"/><circle cx="588.5" cy="441.0" r="4.2"/><circle cx="590.0" cy="444.2" r="4.2"/><circle cx="590.0" cy="415.8" r="4.2"/><circle cx="592.5" cy="409.2" r="4.2"/><circle cx="594.5" cy="408.0" r="4.2"/><circle cx="596.7" cy="406.7" r="4.2"/><circle cx="598.5" cy="404.5" r="4.2"/><circle cx="600.0" cy="402.5" r="4.2"/><circle cx="600.0" cy="425.8" r="4.2"/><circle cx="602.5" cy="422.5" r="4.2"/><circle cx="604.5" cy="422.0" r="4.2"/><circle cx="606.7" cy="421.7" r="4.2"/><circle cx="609.2" cy="425.8" r="4.2"/><circle cx="610.0" cy="400.0" r="4.2"/><circle cx="612.5" cy="397.5" r="4.2"/><circle cx="615.0" cy="395.0" r="4.2"/><circle cx="617.5" cy="395.0" r="4.2"/><circle cx="620.0" cy="395.0" r="4.2"/><circle cx="622.5" cy="393.0" r="4.2"/><circle cx="625.0" cy="391.7" r="4.2"/><circle cx="627.5" cy="397.0" r="4.2"/><circle cx="630.0" cy="403.3" r="4.2"/><circle cx="631.7" cy="401.7" r="4.2"/><circle cx="633.3" cy="396.7" r="4.2"/><circle cx="635.8" cy="390.8" r="4.2"/><circle cx="636.7" cy="390.0" r="4.2"/><circle cx="638.3" cy="398.3" r="4.2"/><circle cx="640.5" cy="395.0" r="4.2"/><circle cx="643.3" cy="392.5" r="4.2"/><circle cx="645.0" cy="393.3" r="4.2"/><circle cx="646.7" cy="396.7" r="4.2"/><circle cx="648.3" cy="407.5" r="4.2"/><circle cx="649.2" cy="406.7" r="4.2"/><circle cx="651.5" cy="408.0" r="4.2"/><circle cx="655.0" cy="408.0" r="4.2"/><circle cx="657.5" cy="387.5" r="4.2"/><circle cx="658.3" cy="387.5" r="4.2"/><circle cx="660.5" cy="389.0" r="4.2"/><circle cx="662.5" cy="390.8" r="4.2"/><circle cx="665.8" cy="395.0" r="4.2"/><circle cx="666.7" cy="397.5" r="4.2"/><circle cx="668.3" cy="408.0" r="4.2"/><circle cx="670.0" cy="420.8" r="4.2"/><circle cx="672.0" cy="421.0" r="4.2"/><circle cx="674.2" cy="433.3" r="4.2"/><circle cx="675.8" cy="429.2" r="4.2"/><circle cx="676.7" cy="420.8" r="4.2"/><circle cx="680.0" cy="409.2" r="4.2"/><circle cx="683.3" cy="403.3" r="4.2"/><circle cx="685.5" cy="404.0" r="4.2"/><circle cx="687.5" cy="405.8" r="4.2"/><circle cx="689.2" cy="423.0" r="4.2"/><circle cx="691.7" cy="434.2" r="4.2"/><circle cx="695.8" cy="438.3" r="4.2"/><circle cx="697.5" cy="442.5" r="4.2"/><circle cx="699.2" cy="423.3" r="4.2"/><circle cx="701.7" cy="415.8" r="4.2"/><circle cx="704.0" cy="416.5" r="4.2"/><circle cx="706.7" cy="417.5" r="4.2"/><circle cx="708.3" cy="455.0" r="4.2"/><circle cx="709.2" cy="482.5" r="4.2"/><circle cx="711.9" cy="488.5" r="4.2"/><circle cx="713.3" cy="488.3" r="4.2"/><circle cx="716.0" cy="494.8" r="4.2"/><circle cx="717.5" cy="460.5" r="4.2"/><circle cx="719.2" cy="431.7" r="4.2"/><circle cx="720.8" cy="423.3" r="4.2"/><circle cx="723.0" cy="423.5" r="4.2"/><circle cx="725.0" cy="424.2" r="4.2"/><circle cx="727.5" cy="428.0" r="4.2"/><circle cx="730.0" cy="430.8" r="4.2"/><circle cx="732.5" cy="429.0" r="4.2"/><circle cx="735.0" cy="427.5" r="4.2"/><circle cx="737.0" cy="424.0" r="4.2"/><circle cx="739.2" cy="420.8" r="4.2"/><circle cx="741.0" cy="423.0" r="4.2"/><circle cx="743.3" cy="425.0" r="4.2"/><circle cx="745.8" cy="431.7" r="4.2"/><circle cx="746.7" cy="436.7" r="4.2"/><circle cx="747.5" cy="468.3" r="4.2"/><circle cx="748.3" cy="488.1" r="4.2"/><circle cx="750.4" cy="496.5" r="4.2"/><circle cx="751.5" cy="514.6" r="4.2"/><circle cx="752.5" cy="530.2" r="4.2"/><circle cx="754.2" cy="545.4" r="4.2"/><circle cx="755.6" cy="558.3" r="4.2"/><circle cx="757.7" cy="563.5" r="4.2"/><circle cx="759.2" cy="569.4" r="4.2"/><circle cx="762.9" cy="564.2" r="4.2"/><circle cx="764.6" cy="556.2" r="4.2"/><circle cx="766.5" cy="579.6" r="4.2"/><circle cx="768.1" cy="570.8" r="4.2"/><circle cx="771.2" cy="567.7" r="4.2"/><circle cx="774.4" cy="566.2" r="4.2"/><circle cx="774.4" cy="525.4" r="4.2"/><circle cx="778.5" cy="518.8" r="4.2"/><circle cx="779.6" cy="535.4" r="4.2"/><circle cx="781.7" cy="527.5" r="4.2"/><circle cx="785.8" cy="517.1" r="4.2"/><circle cx="787.5" cy="509.8" r="4.2"/><circle cx="544.8" cy="404.5" r="4.2"/><circle cx="550.2" cy="404.0" r="4.2"/><circle cx="554.5" cy="405.0" r="4.2"/><circle cx="240.5" cy="534.5" r="4.2"/><circle cx="169.7" cy="371.2" r="4.2"/><circle cx="176.1" cy="363.7" r="4.2"/><circle cx="178.3" cy="362.1" r="4.2"/><circle cx="180.7" cy="363.8" r="4.2"/><circle cx="184.3" cy="389.4" r="4.2"/><circle cx="187.2" cy="405.6" r="4.2"/><circle cx="189.1" cy="410.6" r="4.2"/><circle cx="195.0" cy="398.1" r="4.2"/><circle cx="197.5" cy="392.5" r="4.2"/><circle cx="211.7" cy="440.1" r="4.2"/><circle cx="214.4" cy="440.1" r="4.2"/><circle cx="216.9" cy="441.8" r="4.2"/><circle cx="224.2" cy="566.7" r="4.2"/><circle cx="227.5" cy="581.5" r="4.2"/><circle cx="235.8" cy="533.8" r="4.2"/><circle cx="237.6" cy="534.4" r="4.2"/><circle cx="239.7" cy="531.5" r="4.2"/><circle cx="244.2" cy="525.0" r="4.2"/><circle cx="252.4" cy="571.0" r="4.2"/><circle cx="254.4" cy="569.0" r="4.2"/><circle cx="259.1" cy="568.1" r="4.2"/><circle cx="260.9" cy="572.1" r="4.2"/><circle cx="270.4" cy="607.0" r="4.2"/><circle cx="272.9" cy="603.8" r="4.2"/><circle cx="275.4" cy="599.2" r="4.2"/><circle cx="278.8" cy="561.2" r="4.2"/><circle cx="280.9" cy="555.8" r="4.2"/><circle cx="285.1" cy="543.0" r="4.2"/><circle cx="287.1" cy="539.5" r="4.2"/><circle cx="294.4" cy="548.3" r="4.2"/><circle cx="296.9" cy="546.1" r="4.2"/><circle cx="299.4" cy="542.0" r="4.2"/><circle cx="301.9" cy="541.0" r="4.2"/><circle cx="304.0" cy="543.1" r="4.2"/><circle cx="324.9" cy="544.1" r="4.2"/><circle cx="335.4" cy="557.0" r="4.2"/><circle cx="346.2" cy="509.0" r="4.2"/><circle cx="349.4" cy="505.5" r="4.2"/><circle cx="352.1" cy="501.8" r="4.2"/><circle cx="354.9" cy="498.0" r="4.2"/><circle cx="357.1" cy="494.2" r="4.2"/><circle cx="366.5" cy="483.9" r="4.2"/><circle cx="369.6" cy="488.6" r="4.2"/><circle cx="378.8" cy="467.4" r="4.2"/><circle cx="381.2" cy="465.2" r="4.2"/><circle cx="392.1" cy="477.3" r="4.2"/><circle cx="394.0" cy="471.4" r="4.2"/><circle cx="402.4" cy="450.4" r="4.2"/><circle cx="404.9" cy="454.4" r="4.2"/><circle cx="411.0" cy="477.4" r="4.2"/><circle cx="417.4" cy="471.9" r="4.2"/><circle cx="422.4" cy="463.5" r="4.2"/><circle cx="424.9" cy="461.0" r="4.2"/><circle cx="431.6" cy="443.4" r="4.2"/><circle cx="433.8" cy="446.2" r="4.2"/><circle cx="436.2" cy="437.8" r="4.2"/><circle cx="438.8" cy="432.8" r="4.2"/><circle cx="441.2" cy="427.5" r="4.2"/><circle cx="443.8" cy="423.1" r="4.2"/><circle cx="446.2" cy="421.6" r="4.2"/><circle cx="451.0" cy="420.8" r="4.2"/><circle cx="452.9" cy="417.6" r="4.2"/><circle cx="454.6" cy="414.6" r="4.2"/><circle cx="456.5" cy="411.5" r="4.2"/><circle cx="459.8" cy="405.7" r="4.2"/><circle cx="471.5" cy="456.9" r="4.2"/><circle cx="481.0" cy="400.6" r="4.2"/><circle cx="483.2" cy="395.2" r="4.2"/><circle cx="485.4" cy="394.2" r="4.2"/><circle cx="487.6" cy="398.0" r="4.2"/><circle cx="489.6" cy="399.0" r="4.2"/><circle cx="491.5" cy="397.1" r="4.2"/><circle cx="493.8" cy="394.1" r="4.2"/><circle cx="496.2" cy="389.8" r="4.2"/><circle cx="498.5" cy="388.8" r="4.2"/><circle cx="500.4" cy="391.2" r="4.2"/><circle cx="502.1" cy="394.2" r="4.2"/><circle cx="504.0" cy="397.7" r="4.2"/><circle cx="507.6" cy="390.2" r="4.2"/><circle cx="509.6" cy="389.2" r="4.2"/><circle cx="518.5" cy="449.2" r="4.2"/><circle cx="521.0" cy="453.0" r="4.2"/><circle cx="524.7" cy="445.3" r="4.2"/><circle cx="536.0" cy="411.2" r="4.2"/><circle cx="537.9" cy="408.8" r="4.2"/><circle cx="539.6" cy="405.8" r="4.2"/><circle cx="541.5" cy="402.0" r="4.2"/><circle cx="548.5" cy="401.8" r="4.2"/><circle cx="550.5" cy="402.0" r="4.2"/><circle cx="555.9" cy="401.5" r="4.2"/><circle cx="557.5" cy="404.9" r="4.2"/><circle cx="559.6" cy="407.6" r="4.2"/><circle cx="562.1" cy="409.2" r="4.2"/><circle cx="565.5" cy="421.2" r="4.2"/><circle cx="570.9" cy="415.0" r="4.2"/><circle cx="575.4" cy="401.2" r="4.2"/><circle cx="577.4" cy="403.8" r="4.2"/><circle cx="584.1" cy="444.9" r="4.2"/><circle cx="585.9" cy="441.1" r="4.2"/><circle cx="597.6" cy="405.6" r="4.2"/><circle cx="601.2" cy="424.1" r="4.2"/><circle cx="608.0" cy="423.8" r="4.2"/><circle cx="611.2" cy="398.8" r="4.2"/><circle cx="613.8" cy="396.2" r="4.2"/><circle cx="621.2" cy="394.0" r="4.2"/><circle cx="623.8" cy="392.4" r="4.2"/><circle cx="626.2" cy="394.4" r="4.2"/><circle cx="628.8" cy="400.1" r="4.2"/><circle cx="632.5" cy="399.2" r="4.2"/><circle cx="634.5" cy="393.8" r="4.2"/><circle cx="639.4" cy="396.6" r="4.2"/><circle cx="641.9" cy="393.8" r="4.2"/><circle cx="645.9" cy="395.0" r="4.2"/><circle cx="650.4" cy="407.4" r="4.2"/><circle cx="653.2" cy="408.0" r="4.2"/><circle cx="659.4" cy="388.2" r="4.2"/><circle cx="661.5" cy="389.9" r="4.2"/><circle cx="664.1" cy="392.9" r="4.2"/><circle cx="675.0" cy="431.2" r="4.2"/><circle cx="681.6" cy="406.2" r="4.2"/><circle cx="686.5" cy="404.9" r="4.2"/><circle cx="693.8" cy="436.2" r="4.2"/><circle cx="696.6" cy="440.4" r="4.2"/><circle cx="705.4" cy="417.0" r="4.2"/><circle cx="710.5" cy="485.5" r="4.2"/><circle cx="726.2" cy="426.1" r="4.2"/><circle cx="728.8" cy="429.4" r="4.2"/><circle cx="731.2" cy="429.9" r="4.2"/><circle cx="733.8" cy="428.2" r="4.2"/><circle cx="736.0" cy="425.8" r="4.2"/><circle cx="738.1" cy="422.4" r="4.2"/><circle cx="740.1" cy="421.9" r="4.2"/><circle cx="742.1" cy="424.0" r="4.2"/><circle cx="756.7" cy="560.9" r="4.2"/><circle cx="761.0" cy="566.8" r="4.2"/><circle cx="769.7" cy="569.2" r="4.2"/><circle cx="772.8" cy="567.0" r="4.2"/><circle cx="789.6" cy="488.5" r="4.2"/><circle cx="790.9" cy="488.5" r="4.2"/><circle cx="792.3" cy="488.5" r="4.2"/><circle cx="793.6" cy="488.5" r="4.2"/><circle cx="795.0" cy="488.5" r="4.2"/><circle cx="796.3" cy="488.5" r="4.2"/><circle cx="797.7" cy="488.5" r="4.2"/><circle cx="799.0" cy="488.5" r="4.2"/><circle cx="800.3" cy="488.5" r="4.2"/><circle cx="801.7" cy="488.5" r="4.2"/><circle cx="803.0" cy="488.5" r="4.2"/><circle cx="804.4" cy="488.5" r="4.2"/><circle cx="805.7" cy="488.5" r="4.2"/><circle cx="807.1" cy="488.5" r="4.2"/><circle cx="808.4" cy="488.5" r="4.2"/><circle cx="809.7" cy="488.5" r="4.2"/><circle cx="811.1" cy="488.5" r="4.2"/><circle cx="812.4" cy="488.5" r="4.2"/><circle cx="813.8" cy="488.5" r="4.2"/><circle cx="815.1" cy="488.5" r="4.2"/><circle cx="816.4" cy="488.5" r="4.2"/><circle cx="817.8" cy="488.5" r="4.2"/><circle cx="819.1" cy="488.5" r="4.2"/><circle cx="820.5" cy="488.5" r="4.2"/><circle cx="821.8" cy="488.5" r="4.2"/><circle cx="823.2" cy="488.5" r="4.2"/><circle cx="824.5" cy="488.5" r="4.2"/><circle cx="825.8" cy="488.5" r="4.2"/><circle cx="827.2" cy="488.5" r="4.2"/><circle cx="828.5" cy="488.5" r="4.2"/><circle cx="829.9" cy="488.5" r="4.2"/></g>
<rect x="120.3" y="86.4" width="744.0" height="554.4" fill="none" stroke="#000" stroke-width="1.67"/>
<line x1="152.1" y1="640.8" x2="152.1" y2="648.0999999999999" stroke="#000" stroke-width="1.67"/>
<text x="152.1" y="670" text-anchor="middle" fill="#000">2020-11</text>
<line x1="234" y1="640.8" x2="234" y2="648.0999999999999" stroke="#000" stroke-width="1.67"/>
<text x="234" y="670" text-anchor="middle" fill="#000">2021-01</text>
<line x1="313.6" y1="640.8" x2="313.6" y2="648.0999999999999" stroke="#000" stroke-width="1.67"/>
<text x="313.6" y="670" text-anchor="middle" fill="#000">2021-03</text>
<line x1="395" y1="640.8" x2="395" y2="648.0999999999999" stroke="#000" stroke-width="1.67"/>
<text x="395" y="670" text-anchor="middle" fill="#000">2021-05</text>
<line x1="476.8" y1="640.8" x2="476.8" y2="648.0999999999999" stroke="#000" stroke-width="1.67"/>
<text x="476.8" y="670" text-anchor="middle" fill="#000">2021-07</text>
<line x1="559.8" y1="640.8" x2="559.8" y2="648.0999999999999" stroke="#000" stroke-width="1.67"/>
<text x="559.8" y="670" text-anchor="middle" fill="#000">2021-09</text>
<line x1="642" y1="640.8" x2="642" y2="648.0999999999999" stroke="#000" stroke-width="1.67"/>
<text x="642" y="670" text-anchor="middle" fill="#000">2021-11</text>
<line x1="724" y1="640.8" x2="724" y2="648.0999999999999" stroke="#000" stroke-width="1.67"/>
<text x="724" y="670" text-anchor="middle" fill="#000">2022-01</text>
<line x1="803" y1="640.8" x2="803" y2="648.0999999999999" stroke="#000" stroke-width="1.67"/>
<text x="803" y="670" text-anchor="middle" fill="#000">2022-03</text>
<line x1="113.0" y1="141.0" x2="120.3" y2="141.0" stroke="#000" stroke-width="1.67"/>
<text x="106.2" y="148.6" text-anchor="end" fill="#f00">1.10</text>
<line x1="113.0" y1="262.2" x2="120.3" y2="262.2" stroke="#000" stroke-width="1.67"/>
<text x="106.2" y="269.8" text-anchor="end" fill="#f00">1.05</text>
<line x1="113.0" y1="383.5" x2="120.3" y2="383.5" stroke="#000" stroke-width="1.67"/>
<text x="106.2" y="391.1" text-anchor="end" fill="#f00">1.00</text>
<line x1="113.0" y1="504.8" x2="120.3" y2="504.8" stroke="#000" stroke-width="1.67"/>
<text x="106.2" y="512.4" text-anchor="end" fill="#f00">0.95</text>
<line x1="113.0" y1="626.0" x2="120.3" y2="626.0" stroke="#000" stroke-width="1.67"/>
<text x="106.2" y="633.6" text-anchor="end" fill="#f00">0.90</text>
<line x1="864.3" y1="142.4" x2="871.5999999999999" y2="142.4" stroke="#000" stroke-width="1.67"/>
<text x="878.9" y="149.4" text-anchor="start" fill="#000">98</text>
<line x1="864.3" y1="215.3" x2="871.5999999999999" y2="215.3" stroke="#000" stroke-width="1.67"/>
<text x="878.9" y="222.3" text-anchor="start" fill="#000">96</text>
<line x1="864.3" y1="288.2" x2="871.5999999999999" y2="288.2" stroke="#000" stroke-width="1.67"/>
<text x="878.9" y="295.2" text-anchor="start" fill="#000">94</text>
<line x1="864.3" y1="361.1" x2="871.5999999999999" y2="361.1" stroke="#000" stroke-width="1.67"/>
<text x="878.9" y="368.1" text-anchor="start" fill="#000">92</text>
<line x1="864.3" y1="434.0" x2="871.5999999999999" y2="434.0" stroke="#000" stroke-width="1.67"/>
<text x="878.9" y="441.0" text-anchor="start" fill="#000">90</text>
<line x1="864.3" y1="506.9" x2="871.5999999999999" y2="506.9" stroke="#000" stroke-width="1.67"/>
<text x="878.9" y="513.9" text-anchor="start" fill="#000">88</text>
<line x1="864.3" y1="579.8" x2="871.5999999999999" y2="579.8" stroke="#000" stroke-width="1.67"/>
<text x="878.9" y="586.8" text-anchor="start" fill="#000">86</text>
<text x="492.3" y="699" text-anchor="middle" fill="#000">Date</text>
<text transform="translate(54.4,364) rotate(-90)" text-anchor="middle" fill="#f00">Reproductive Number R_d, Daily</text>
<text transform="translate(922,363.6) rotate(-90)" text-anchor="middle" fill="#000">Encounter Density, Adjusted</text>
<text transform="translate(750,710.3) scale(1,0.935)" font-size="41.67" fill="#000">RI</text>
<rect x="447.5" y="97" width="89" height="36" rx="4.2" ry="4.2" fill="#fff" fill-opacity="0.8" stroke="#ccc" stroke-opacity="0.8" stroke-width="1.67"/>
<circle cx="477.5" cy="113.5" r="4.2" fill="#f00"/>
<text x="515" y="119.5" fill="#000">R</text>
<rect x="626.5" y="97" width="227.7" height="36" rx="4.2" ry="4.2" fill="#fff" fill-opacity="0.8" stroke="#ccc" stroke-opacity="0.8" stroke-width="1.67"/>
<circle cx="656" cy="113.5" r="4.2" fill="#000"/>
<text x="693.5" y="119.5" fill="#000">D, shifted 25 days</text>
</g></svg>
</body></html>
